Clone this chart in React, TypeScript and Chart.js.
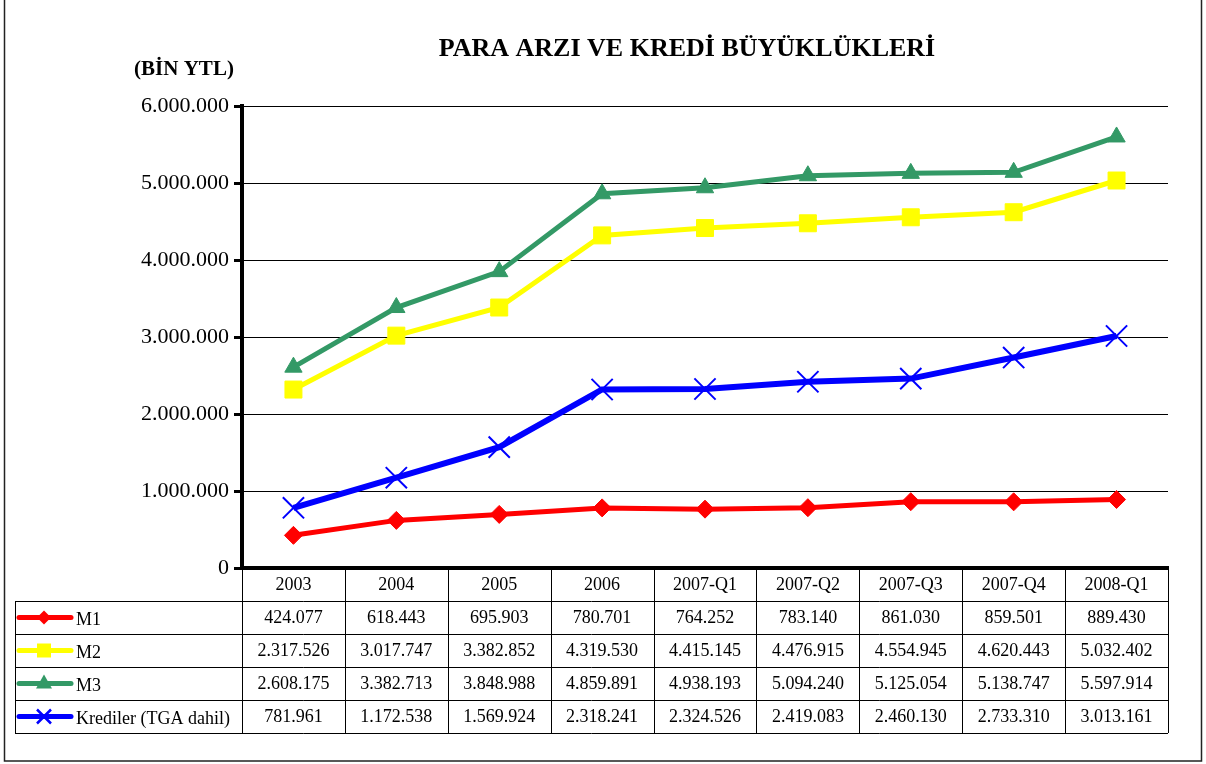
import React, { useEffect, useRef } from "react";
import { Chart, registerables } from "chart.js";

Chart.register(...registerables);

const categories = ["2003", "2004", "2005", "2006", "2007-Q1", "2007-Q2", "2007-Q3", "2007-Q4", "2008-Q1"];
const m1 = [424077, 618443, 695903, 780701, 764252, 783140, 861030, 859501, 889430];
const m2 = [2317526, 3017747, 3382852, 4319530, 4415145, 4476915, 4554945, 4620443, 5032402];
const m3 = [2608175, 3382713, 3848988, 4859891, 4938193, 5094240, 5125054, 5138747, 5597914];
const krediler = [781961, 1172538, 1569924, 2318241, 2324526, 2419083, 2460130, 2733310, 3013161];
const seriesNames = ["M1", "M2", "M3", "Krediler (TGA dahil)"];
const seriesColors = ["#FF0000", "#FFFF00", "#339966", "#0000FF"];
const titleText = "PARA ARZI VE KREDİ BÜYÜKLÜKLERİ";
const unitText = "(BİN YTL)";
const yMin = 0;
const yMax = 6000000;
const yStep = 1000000;

const SERIF = "'Liberation Serif', 'Times New Roman', serif";

const fmt = (v: number) => String(v).replace(/\B(?=(\d{3})+(?!\d))/g, ".");

function drawMarker(ctx: CanvasRenderingContext2D, style: string, x: number, y: number, s: number, color: string) {
  ctx.save();
  ctx.fillStyle = color;
  ctx.strokeStyle = color;
  ctx.beginPath();
  if (style === "rectRot") {
    ctx.moveTo(x, y - s);
    ctx.lineTo(x + s, y);
    ctx.lineTo(x, y + s);
    ctx.lineTo(x - s, y);
    ctx.closePath();
    ctx.fill();
  } else if (style === "rect") {
    ctx.rect(x - s, y - s, 2 * s, 2 * s);
    ctx.fill();
  } else if (style === "triangle") {
    ctx.moveTo(x, y - s);
    ctx.lineTo(x + s, y + s * 0.75);
    ctx.lineTo(x - s, y + s * 0.75);
    ctx.closePath();
    ctx.fill();
  } else {
    ctx.lineWidth = 2.5;
    ctx.moveTo(x - s, y - s);
    ctx.lineTo(x + s, y + s);
    ctx.moveTo(x + s, y - s);
    ctx.lineTo(x - s, y + s);
    ctx.stroke();
  }
  ctx.restore();
}

const markerStyles = ["rectRot", "rect", "triangle", "crossRot"];
const allSeries = [m1, m2, m3, krediler];

const tablePlugin = {
  id: "dataTable",
  afterDraw(chart: any) {
    const ctx: CanvasRenderingContext2D = chart.ctx;
    const { left, right, bottom } = chart.chartArea;
    const n = categories.length;
    const colW = (right - left) / n;
    const rowH = 33;
    const legendLeft = 15;
    const nRows = allSeries.length;
    const tableBottom = bottom + rowH * (nRows + 1);

    ctx.save();
    ctx.strokeStyle = "#000";
    ctx.lineWidth = 1;
    for (let r = 1; r <= nRows + 1; r++) {
      const y = Math.round(bottom + r * rowH) + 0.5;
      ctx.beginPath();
      ctx.moveTo(legendLeft, y);
      ctx.lineTo(right, y);
      ctx.stroke();
    }
    for (let c = 0; c <= n; c++) {
      const x = Math.round(left + c * colW) + 0.5;
      ctx.beginPath();
      ctx.moveTo(x, bottom);
      ctx.lineTo(x, tableBottom);
      ctx.stroke();
    }
    ctx.beginPath();
    ctx.moveTo(legendLeft + 0.5, bottom + rowH);
    ctx.lineTo(legendLeft + 0.5, tableBottom);
    ctx.stroke();

    ctx.fillStyle = "#000";
    ctx.font = `18px ${SERIF}`;
    ctx.textAlign = "center";
    ctx.textBaseline = "middle";
    for (let c = 0; c < n; c++) {
      const x = chart.scales.x.getPixelForValue(c);
      ctx.fillText(categories[c], x, bottom + rowH / 2 + 1);
    }
    for (let r = 0; r < nRows; r++) {
      const cy = bottom + rowH * (r + 1) + rowH / 2 + 1;
      for (let c = 0; c < n; c++) {
        const x = chart.scales.x.getPixelForValue(c);
        ctx.fillText(fmt(allSeries[r][c]), x, cy);
      }
      const ly = cy - 1;
      ctx.save();
      ctx.strokeStyle = seriesColors[r];
      ctx.lineWidth = 5;
      ctx.lineCap = "round";
      ctx.beginPath();
      ctx.moveTo(19, ly);
      ctx.lineTo(71, ly);
      ctx.stroke();
      ctx.restore();
      const sizes = [7, 7, 8, 7];
      drawMarker(ctx, markerStyles[r], 44, r === 2 ? ly - 1 : ly, sizes[r], seriesColors[r]);
      ctx.save();
      ctx.textAlign = "left";
      ctx.fillStyle = "#000";
      ctx.fillText(seriesNames[r], 76, cy + 2);
      ctx.restore();
    }

    ctx.textAlign = "center";
    ctx.font = `bold 26px ${SERIF}`;
    ctx.fillText(titleText, 687, 49);
    ctx.font = `bold 21px ${SERIF}`;
    ctx.fillText(unitText, 184, 70);

    ctx.strokeStyle = "#222";
    ctx.lineWidth = 1.5;
    ctx.beginPath();
    ctx.moveTo(4.5, 0);
    ctx.lineTo(4.5, 761);
    ctx.lineTo(1201.5, 761);
    ctx.lineTo(1201.5, 0);
    ctx.stroke();
    ctx.restore();
  },
};

export default function App() {
  const canvasRef = useRef<HTMLCanvasElement | null>(null);

  useEffect(() => {
    const canvas = canvasRef.current;
    if (!canvas) return;
    const chart = new Chart(canvas, {
      type: "line",
      data: {
        labels: categories,
        datasets: [
          {
            label: seriesNames[0],
            data: m1,
            borderColor: seriesColors[0],
            backgroundColor: seriesColors[0],
            borderWidth: 5,
            pointStyle: "rectRot",
            pointRadius: 9,
            pointBorderWidth: 1,
          },
          {
            label: seriesNames[1],
            data: m2,
            borderColor: seriesColors[1],
            backgroundColor: seriesColors[1],
            borderWidth: 5,
            pointStyle: "rect",
            pointRadius: 12,
            pointBorderWidth: 1,
          },
          {
            label: seriesNames[2],
            data: m3,
            borderColor: seriesColors[2],
            backgroundColor: seriesColors[2],
            borderWidth: 5,
            pointStyle: "triangle",
            pointRadius: 10,
            pointBorderWidth: 1,
          },
          {
            label: seriesNames[3],
            data: krediler,
            borderColor: seriesColors[3],
            backgroundColor: seriesColors[3],
            borderWidth: 6,
            pointStyle: "crossRot",
            pointRadius: 15,
            pointBorderWidth: 2,
          },
        ],
      },
      options: {
        responsive: false,
        animation: false,
        events: [],
        layout: { padding: { left: 0, top: 106, right: 38, bottom: 196 } },
        plugins: {
          legend: { display: false },
          title: { display: false },
          tooltip: { enabled: false },
        },
        elements: { line: { tension: 0 } },
        scales: {
          x: {
            offset: true,
            ticks: { display: false },
            grid: { display: false },
            border: { display: true, color: "#000", width: 4 },
            afterFit: (s: any) => {
              s.height = 0;
            },
          },
          y: {
            min: yMin,
            max: yMax,
            ticks: {
              stepSize: yStep,
              color: "#000",
              padding: 5,
              font: { family: SERIF, size: 22 },
              callback: (v: any) => fmt(Number(v)),
            },
            grid: {
              color: "#000",
              lineWidth: 1,
              tickLength: 8,
              tickColor: "#000",
              tickWidth: 3,
            },
            border: { display: true, color: "#000", width: 4 },
            afterFit: (s: any) => {
              s.width = 242;
            },
          },
        },
      },
      plugins: [tablePlugin],
    });
    return () => chart.destroy();
  }, []);

  return (
    <div style={{ position: "absolute", left: 0, top: 0, width: 1206, height: 764, background: "#fff" }}>
      <canvas ref={canvasRef} width={1206} height={764} style={{ display: "block" }} />
    </div>
  );
}
